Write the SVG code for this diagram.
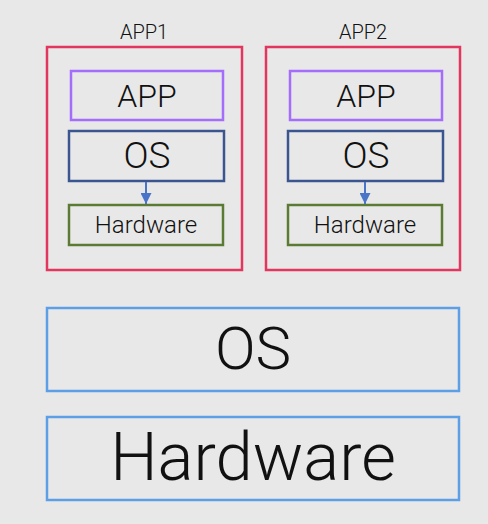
<svg xmlns="http://www.w3.org/2000/svg" width="488" height="524" viewBox="0 0 488 524">
<defs>
<style>
.bg{fill:#e8e8e8}
.box{fill:none}
.red{stroke:#e2365f;stroke-width:2.5}
.pur{stroke:#a56dfc;stroke-width:2.5}
.os{stroke:#3b5590;stroke-width:2.5}
.hw{stroke:#5b7b34;stroke-width:2.5}
.blue{stroke:#5c9fe6;stroke-width:2.5}
text{font-family:Roboto,"Liberation Sans",sans-serif;font-weight:300;fill:#111;text-anchor:middle}
.lbl{font-size:20px}
.m{font-size:32px}
.o{font-size:37px}
.s{font-size:24px}
.b1{font-size:60px}
.b2{font-size:67px}
.conn{stroke:#4a74c8;stroke-width:2;fill:none}
</style>
<marker id="ah" viewBox="0 0 10 10" refX="10" refY="5" markerWidth="5.5" markerHeight="5.5" markerUnits="strokeWidth" orient="auto">
<path d="M0,0 L10,5 L0,10 z" fill="#4a74c8"/>
</marker>
</defs>
<rect class="bg" x="0" y="0" width="488" height="524"/>
<g id="app1">
<text class="lbl" x="144" y="39">APP1</text>
<rect class="box red" x="47" y="47" width="195" height="223"/>
</g>
<g id="app1-app">
<rect class="box pur" x="71" y="71" width="152" height="49"/>
<text class="m" x="147" y="107">APP</text>
</g>
<g id="app1-os">
<rect class="box os" x="69" y="131" width="155" height="50"/>
<text class="o" x="147" y="168">OS</text>
</g>
<g id="app1-hw">
<rect class="box hw" x="69" y="205" width="154" height="40"/>
<text class="s" x="146" y="233">Hardware</text>
</g>
<g id="app2">
<text class="lbl" x="363" y="39">APP2</text>
<rect class="box red" x="266" y="47" width="194" height="223"/>
</g>
<g id="app2-app">
<rect class="box pur" x="290" y="71" width="152" height="49"/>
<text class="m" x="366" y="107">APP</text>
</g>
<g id="app2-os">
<rect class="box os" x="288" y="131" width="155" height="50"/>
<text class="o" x="366" y="168">OS</text>
</g>
<g id="app2-hw">
<rect class="box hw" x="288" y="205" width="154" height="40"/>
<text class="s" x="365" y="233">Hardware</text>
</g>
<g id="host-os">
<rect class="box blue" x="47" y="308" width="412" height="83"/>
<text class="b1" x="253" y="369">OS</text>
</g>
<g id="host-hw">
<rect class="box blue" x="47" y="417" width="412" height="83"/>
<text class="b2" x="253" y="480">Hardware</text>
</g>
<g id="connectors">
<line class="conn" x1="146" y1="182" x2="146" y2="204" marker-end="url(#ah)"/>
<line class="conn" x1="365" y1="182" x2="365" y2="204" marker-end="url(#ah)"/>
</g>
</svg>
